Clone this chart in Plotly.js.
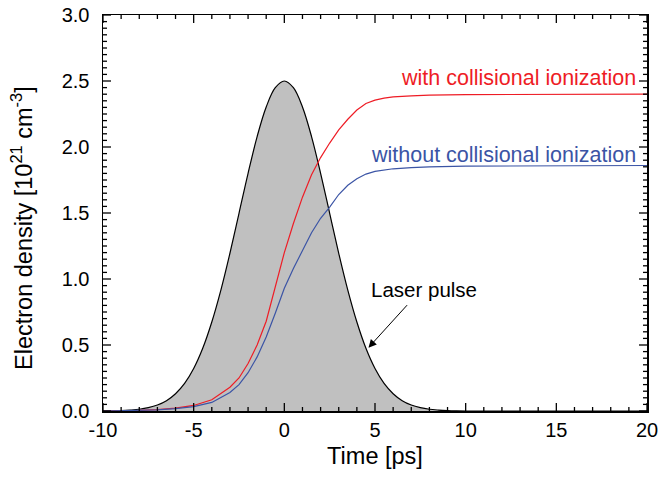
<!DOCTYPE html>
<html>
<head>
<meta charset="utf-8">
<script src="https://cdn.plot.ly/plotly-3.0.1.min.js"></script>
<style>
html,body{margin:0;padding:0;background:#fff;}
#chart{width:659px;height:479px;}
</style>
</head>
<body>
<div id="chart"></div>
<script>
// Laser pulse envelope
var pulseTime = [-10,-9.5,-9,-8.5,-8,-7.5,-7,-6.5,-6,-5.5,-5,-4.5,-4,-3.5,-3,-2.5,-2,-1.5,-1,-0.5,0,0.5,1,1.5,2,2.5,3,3.5,4,4.5,5,5.5,6,6.5,7,7.5,8,8.5,9,9.5,10,20];
var pulseValue = [0.0,0.001,0.003,0.007,0.013,0.025,0.045,0.078,0.131,0.209,0.322,0.475,0.674,0.916,1.195,1.498,1.801,2.079,2.303,2.449,2.5,2.449,2.303,2.079,1.801,1.498,1.195,0.916,0.674,0.475,0.322,0.209,0.131,0.078,0.045,0.025,0.013,0.007,0.003,0.001,0.0,0.0];

// With collisional ionization
var withTime = [-10,-9,-8,-7,-6,-5,-4,-3,-2.5,-2,-1.5,-1,-0.5,0,0.5,1,1.5,2,2.5,3,3.5,4,4.5,5,5.5,6,7,8,10,15,20];
var withValue = [0.0,0.001,0.004,0.01,0.022,0.042,0.085,0.18,0.25,0.36,0.5,0.68,0.93,1.2,1.42,1.62,1.79,1.92,2.03,2.13,2.21,2.28,2.33,2.355,2.37,2.38,2.388,2.393,2.397,2.4,2.4];

// Without collisional ionization
var withoutTime = [-10,-9,-8,-7,-6,-5,-4,-3,-2.5,-2,-1.5,-1,-0.5,0,0.5,1,1.5,2,2.5,3,3.5,4,4.5,5,6,7,8,10,15,20];
var withoutValue = [0.0,0.001,0.003,0.008,0.018,0.033,0.065,0.14,0.2,0.29,0.41,0.56,0.74,0.93,1.08,1.22,1.35,1.46,1.545,1.64,1.71,1.76,1.795,1.815,1.835,1.843,1.85,1.855,1.858,1.86];

// Tick labels
var xTickVals = [-10,-5,0,5,10,15,20];
var xTickText = ['-10','-5','0','5','10','15','20'];
var yTickVals = [0,0.5,1,1.5,2,2.5,3];
var yTickText = ['0.0','0.5','1.0','1.5','2.0','2.5','3.0'];
var xMinorStep = 1;
var yMinorStep = 0.05;

var FONT = '"Liberation Sans", Arial, Helvetica, sans-serif';
var RED = '#ee1c25';
var BLUE = '#3b54a5';

var W = 659, H = 479, ML = 103, MR = 12, MT = 15, MB = 68;
var xMin = xTickVals[0], xMax = xTickVals[xTickVals.length - 1];
var yMin = yTickVals[0], yMax = yTickVals[yTickVals.length - 1];
// pixel-to-data conversion for tick lengths
var xPerPx = (xMax - xMin) / (W - ML - MR);
var yPerPx = (yMax - yMin) / (H - MT - MB);

var traces = [
  {x: pulseTime, y: pulseValue, type: 'scatter', mode: 'lines', fill: 'tozeroy',
   fillcolor: '#c0c0c0', line: {color: '#000000', width: 1.2, shape: 'spline'}, hoverinfo: 'skip'},
  {x: withTime, y: withValue, type: 'scatter', mode: 'lines',
   line: {color: RED, width: 1.2}, hoverinfo: 'skip'},
  {x: withoutTime, y: withoutValue, type: 'scatter', mode: 'lines',
   line: {color: BLUE, width: 1.2}, hoverinfo: 'skip'}
];

// Inside tick marks on all four sides, drawn as broken line segments
var tx = [], ty = [];
for (var i = 0; xMin + i * xMinorStep <= xMax + 1e-9; i++) {
  var xv = Math.round((xMin + i * xMinorStep) * 1000) / 1000;
  var lx = (xTickVals.indexOf(xv) >= 0 ? 8 : 4) * yPerPx;
  tx.push(xv, xv, null, xv, xv, null);
  ty.push(yMin, yMin + lx, null, yMax, yMax - lx, null);
}
for (var j = 0; yMin + j * yMinorStep <= yMax + 1e-9; j++) {
  var yv = Math.round((yMin + j * yMinorStep) * 1000) / 1000;
  var ly = (yTickVals.indexOf(yv) >= 0 ? 8 : 4) * xPerPx;
  tx.push(xMin, xMin + ly, null, xMax, xMax - ly, null);
  ty.push(yv, yv, null, yv, yv, null);
}
traces.push({x: tx, y: ty, type: 'scatter', mode: 'lines', connectgaps: false,
             line: {color: '#000000', width: 1.3}, hoverinfo: 'skip'});

var axisCommon = {
  ticks: '', showline: true, linecolor: '#000000', linewidth: 1.5,
  mirror: true, showgrid: false, zeroline: false
};

var layout = {
  width: W, height: H,
  margin: {l: ML, r: MR, t: MT, b: MB},
  paper_bgcolor: '#ffffff', plot_bgcolor: '#ffffff',
  showlegend: false,
  font: {family: FONT, size: 21, color: '#000000'},
  xaxis: Object.assign({}, axisCommon, {
    range: [xMin, xMax], tickmode: 'array', tickvals: xTickVals, ticktext: xTickText,
    tickfont: {family: FONT, size: 20},
    title: {text: 'Time [ps]', font: {family: FONT, size: 23.5}, standoff: 8}
  }),
  yaxis: Object.assign({}, axisCommon, {
    range: [yMin, yMax], tickmode: 'array', tickvals: yTickVals, ticktext: yTickText,
    ticklabelstandoff: 8,
    tickfont: {family: FONT, size: 20}
  }),
  annotations: [
    {x: -0.149, y: 0.462, xref: 'paper', yref: 'paper', textangle: -90,
     text: 'Electron density [10<sup>21</sup> cm<sup>-3</sup>]', showarrow: false,
     xanchor: 'center', yanchor: 'middle', font: {family: FONT, size: 23.5, color: '#000000'}},
    {x: 19.5, y: 2.525, xref: 'x', yref: 'y', text: 'with collisional ionization', showarrow: false,
     xanchor: 'right', yanchor: 'middle', font: {family: FONT, size: 21.5, color: RED}},
    {x: 19.5, y: 1.94, xref: 'x', yref: 'y', text: 'without collisional ionization', showarrow: false,
     xanchor: 'right', yanchor: 'middle', font: {family: FONT, size: 21.5, color: BLUE}},
    {x: 7.72, y: 0.924, xref: 'x', yref: 'y', text: 'Laser pulse', showarrow: false,
     xanchor: 'center', yanchor: 'middle', font: {family: FONT, size: 20.5, color: '#000000'}},
    {x: 4.64, y: 0.48, xref: 'x', yref: 'y', text: '', showarrow: true,
     ax: 40, ay: -44, arrowhead: 2, arrowsize: 1.6, arrowwidth: 1, arrowcolor: '#000000'}
  ]
};

Plotly.newPlot('chart', traces, layout, {staticPlot: true, displayModeBar: false});
</script>
</body>
</html>
